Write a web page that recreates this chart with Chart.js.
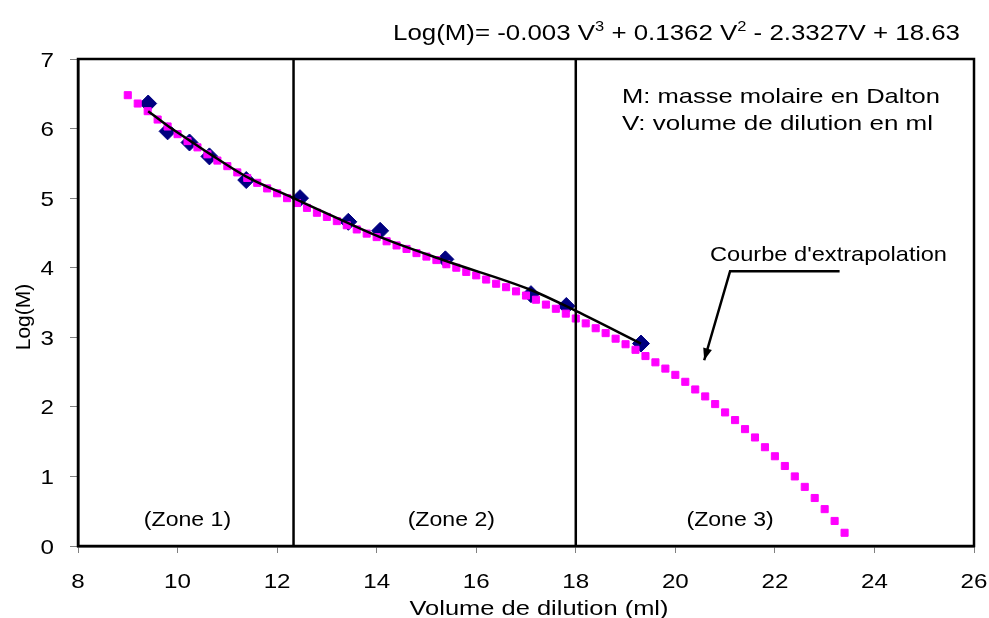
<!DOCTYPE html>
<html>
<head>
<meta charset="utf-8">
<script src="https://cdn.jsdelivr.net/npm/chart.js@4"></script>
<style>
  html, body { margin: 0; padding: 0; background: #fff; }
  #wrap { width: 989px; height: 618px; }
</style>
</head>
<body>
<div id="wrap"><canvas id="graficaLog"></canvas></div>
<script>
// Points mesurés (losanges bleus)
const volMesures = [9.41, 9.80, 10.24, 10.64, 11.38, 12.46, 13.43, 14.07, 15.38, 17.10, 17.81, 19.31];
const logMesures = [6.36, 5.96, 5.80, 5.60, 5.26, 5.00, 4.66, 4.53, 4.12, 3.62, 3.45, 2.91];

// Courbe de tendance (trait noir)
const volTendance = [9.41, 9.80, 10.24, 10.64, 11.38, 12.33, 13.43, 14.07, 15.38, 17.10, 18.00, 19.31];
const logTendance = [6.25, 6.04, 5.83, 5.64, 5.31, 5.00, 4.64, 4.44, 4.10, 3.68, 3.38, 2.91];

// Courbe d'extrapolation (carrés magenta)
const volExtrap = [9.0, 9.2, 9.4, 9.6, 9.8, 10.0, 10.2, 10.4, 10.6, 10.8, 11.0, 11.2, 11.4, 11.6, 11.8,
  12.0, 12.2, 12.4, 12.6, 12.8, 13.0, 13.2, 13.4, 13.6, 13.8, 14.0, 14.2, 14.4, 14.6, 14.8,
  15.0, 15.2, 15.4, 15.6, 15.8, 16.0, 16.2, 16.4, 16.6, 16.8, 17.0, 17.2, 17.4, 17.6, 17.8,
  18.0, 18.2, 18.4, 18.6, 18.8, 19.0, 19.2, 19.4, 19.6, 19.8, 20.0, 20.2, 20.4, 20.6, 20.8,
  21.0, 21.2, 21.4, 21.6, 21.8, 22.0, 22.2, 22.4, 22.6, 22.8, 23.0, 23.2, 23.4];
const logExtrap = [6.48, 6.36, 6.25, 6.13, 6.03, 5.92, 5.82, 5.73, 5.63, 5.54, 5.46, 5.37, 5.29, 5.22, 5.14,
  5.07, 5.00, 4.93, 4.86, 4.79, 4.73, 4.67, 4.61, 4.55, 4.49, 4.44, 4.38, 4.32, 4.27, 4.21,
  4.16, 4.11, 4.05, 4.00, 3.94, 3.89, 3.83, 3.77, 3.72, 3.66, 3.60, 3.54, 3.47, 3.41, 3.34,
  3.27, 3.20, 3.13, 3.06, 2.98, 2.90, 2.82, 2.73, 2.64, 2.55, 2.46, 2.36, 2.25, 2.15, 2.04,
  1.92, 1.81, 1.68, 1.56, 1.42, 1.29, 1.15, 1.00, 0.85, 0.69, 0.53, 0.36, 0.19];

// Limites des zones
const limitesZones = [12.33, 18.0];
const zones = [
  { texte: '(Zone 1)', x: 10.2 },
  { texte: '(Zone 2)', x: 15.5 },
  { texte: '(Zone 3)', x: 21.1 }
];
const yZones = 0.29;

// Flèche "Courbe d'extrapolation"
const flecheTexte = "Courbe d'extrapolation";
const flechePoints = [{ x: 23.30, y: 3.95 }, { x: 21.10, y: 3.95 }, { x: 20.58, y: 2.67 }];

const police = '"Liberation Sans", Arial, sans-serif';

const toXY = (xs, ys) => xs.map((v, i) => ({ x: v, y: ys[i] }));

const datasets = [
  {
    label: 'Tendance',
    data: toXY(volTendance, logTendance),
    borderColor: '#000',
    borderWidth: 2.5,
    pointRadius: 0,
    showLine: true,
    cubicInterpolationMode: 'monotone',
    order: 0
  },
  {
    label: 'Extrapolation',
    data: toXY(volExtrap, logExtrap),
    backgroundColor: '#ff00ff',
    borderColor: '#ff00ff',
    borderWidth: 1,
    pointStyle: 'rect',
    pointRadius: 5,
    showLine: false,
    order: 1
  },
  {
    label: 'Mesures',
    data: toXY(volMesures, logMesures),
    backgroundColor: '#000080',
    borderColor: '#000080',
    borderWidth: 1,
    pointStyle: 'rectRot',
    pointRadius: 8.5,
    showLine: false,
    order: 2
  }
];

limitesZones.forEach(v => {
  datasets.push({
    label: 'Limite',
    data: [{ x: v, y: 0 }, { x: v, y: 7 }],
    borderColor: '#000',
    borderWidth: 2.5,
    pointRadius: 0,
    showLine: true,
    order: 0
  });
});

// texte étiré horizontalement (la figure d'origine est un peu élargie)
function texte(ctx, s, x, y, taille, etirement, align) {
  ctx.save();
  ctx.font = `${taille}px ${police}`;
  const w = ctx.measureText(s).width * etirement;
  const x0 = align === 'center' ? x - w / 2 : (align === 'right' ? x - w : x);
  ctx.translate(x0, y);
  ctx.scale(etirement, 1);
  ctx.textAlign = 'left';
  ctx.textBaseline = 'alphabetic';
  ctx.fillText(s, 0, 0);
  ctx.restore();
  return w;
}

function largeur(ctx, s, taille) {
  ctx.save();
  ctx.font = `${taille}px ${police}`;
  const w = ctx.measureText(s).width;
  ctx.restore();
  return w;
}

// Cadre, textes et flèche
const annotations = {
  id: 'annotations',
  afterDatasetsDraw(chart) {
    const { ctx, chartArea, scales } = chart;
    const xs = scales.x, ys = scales.y;
    ctx.save();

    ctx.strokeStyle = '#000';
    ctx.lineWidth = 2.5;
    ctx.strokeRect(chartArea.left, chartArea.top, chartArea.right - chartArea.left, chartArea.bottom - chartArea.top);

    ctx.fillStyle = '#000';

    // étiquettes des axes
    xs.ticks.forEach(t => texte(ctx, String(t.value), xs.getPixelForValue(t.value), 588, 21, 1.15, 'center'));
    ys.ticks.forEach(t => texte(ctx, String(t.value), 54, ys.getPixelForValue(t.value) + 7.5, 21, 1.15, 'right'));

    const titreX = 'Volume de dilution (ml)';
    texte(ctx, titreX, 539, 615, 21, 259 / largeur(ctx, titreX, 21), 'center');

    ctx.save();
    ctx.translate(30, 317);
    ctx.rotate(-Math.PI / 2);
    ctx.font = `21px ${police}`;
    ctx.textAlign = 'center';
    ctx.fillText('Log(M)', 0, 0);
    ctx.restore();

    zones.forEach(z => texte(ctx, z.texte, xs.getPixelForValue(z.x), ys.getPixelForValue(yZones), 21, 1.10, 'center'));

    texte(ctx, 'M: masse molaire en Dalton', 622, 103, 21, 318 / largeur(ctx, 'M: masse molaire en Dalton', 21), 'left');
    texte(ctx, 'V: volume de dilution en ml', 622, 130, 21, 311 / largeur(ctx, 'V: volume de dilution en ml', 21), 'left');
    texte(ctx, flecheTexte, 710, 261, 21, 237 / largeur(ctx, flecheTexte, 21), 'left');

    // flèche
    const p = flechePoints.map(pt => ({ x: xs.getPixelForValue(pt.x), y: ys.getPixelForValue(pt.y) }));
    ctx.lineWidth = 2.5;
    ctx.beginPath();
    ctx.moveTo(p[0].x, p[0].y);
    ctx.lineTo(p[1].x, p[1].y);
    ctx.lineTo(p[2].x, p[2].y);
    ctx.stroke();
    const ang = Math.atan2(p[2].y - p[1].y, p[2].x - p[1].x);
    const L = 12, W = 4.5;
    ctx.beginPath();
    ctx.moveTo(p[2].x, p[2].y);
    ctx.lineTo(p[2].x - L * Math.cos(ang) + W * Math.sin(ang), p[2].y - L * Math.sin(ang) - W * Math.cos(ang));
    ctx.lineTo(p[2].x - L * Math.cos(ang) - W * Math.sin(ang), p[2].y - L * Math.sin(ang) + W * Math.cos(ang));
    ctx.closePath();
    ctx.fill();

    // équation avec exposants
    const morceaux = [
      ['Log(M)= -0.003 V', false], ['3', true], [' + 0.1362 V', false], ['2', true], [' - 2.3327V + 18.63', false]
    ];
    const tN = 22, tS = 14;
    let total = 0;
    morceaux.forEach(m => { total += largeur(ctx, m[0], m[1] ? tS : tN); });
    const et = 567 / total;
    let x = 393;
    morceaux.forEach(m => {
      x += texte(ctx, m[0], x, m[1] ? 31 : 40, m[1] ? tS : tN, et, 'left');
    });
    ctx.restore();
  }
};

const ctx = document.getElementById('graficaLog').getContext('2d');
new Chart(ctx, {
  type: 'scatter',
  data: { datasets: datasets },
  options: {
    responsive: true,
    maintainAspectRatio: false,
    animation: false,
    layout: { padding: { left: 0, top: 59, right: 15, bottom: 0 } },
    scales: {
      x: {
        type: 'linear',
        min: 8, max: 26,
        ticks: { stepSize: 2, display: false },
        grid: { drawOnChartArea: false, drawTicks: true, tickLength: 7, color: '#808080' },
        border: { color: '#000', width: 2.5 },
        afterFit(scale) { scale.height = 72; }
      },
      y: {
        min: 0, max: 7,
        ticks: { stepSize: 1, display: false },
        grid: { drawOnChartArea: false, drawTicks: true, tickLength: 8, color: '#808080' },
        border: { color: '#000', width: 2.5 },
        afterFit(scale) { scale.width = 78; }
      }
    },
    plugins: {
      legend: { display: false },
      tooltip: { enabled: false }
    }
  },
  plugins: [annotations]
});
</script>
</body>
</html>
